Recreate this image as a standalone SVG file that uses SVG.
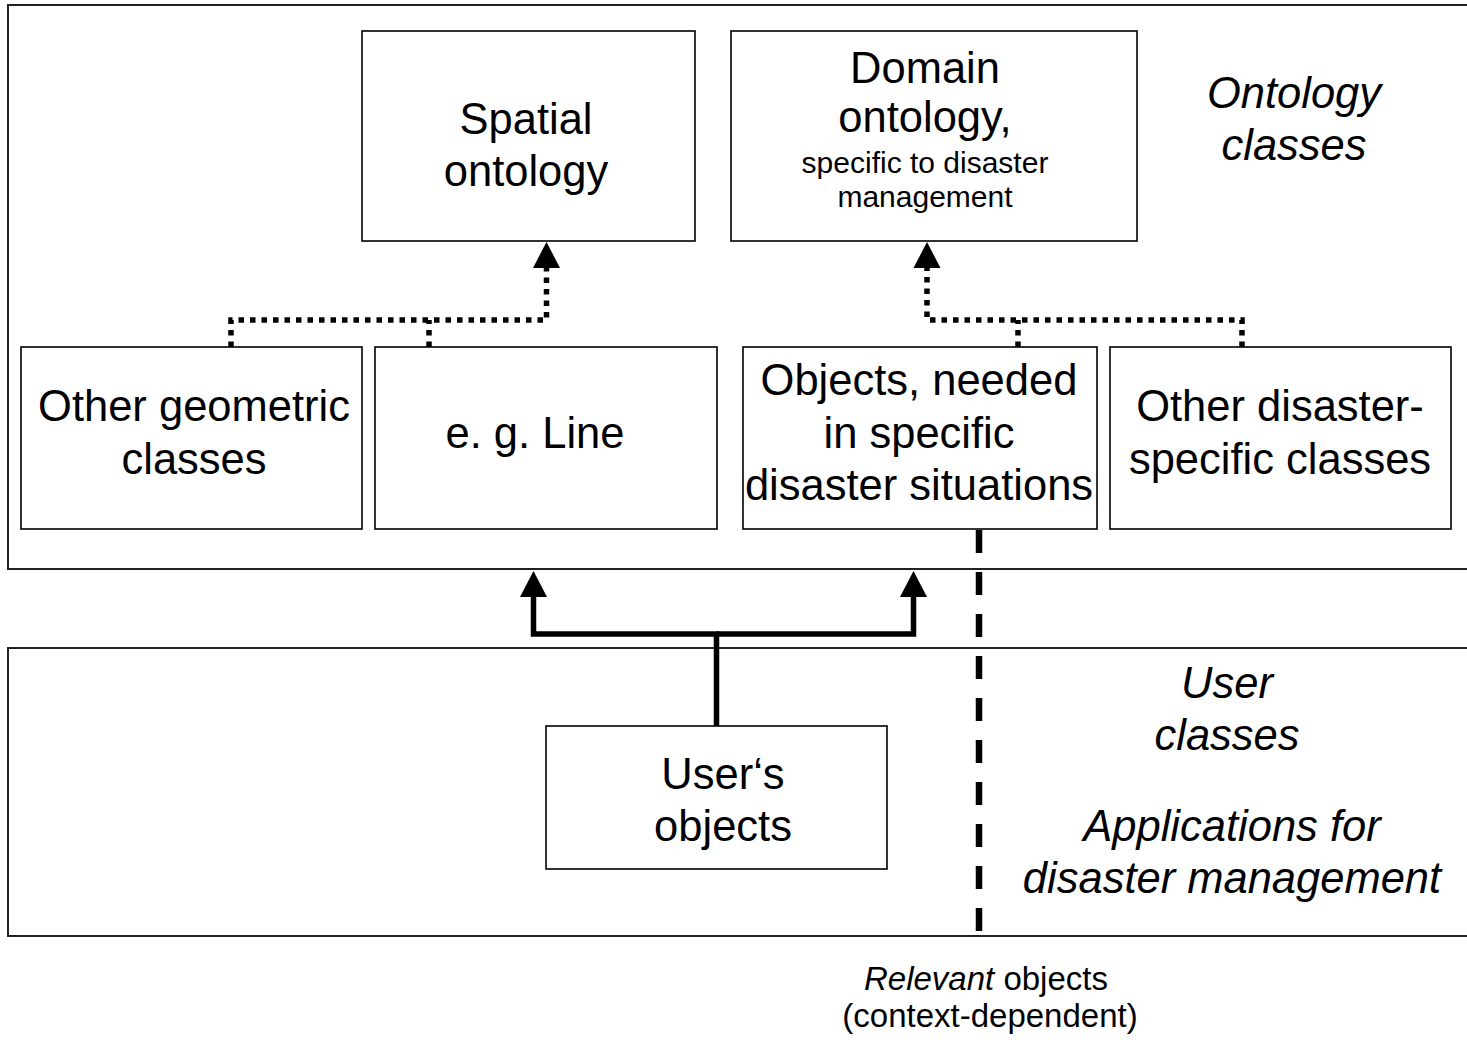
<svg xmlns="http://www.w3.org/2000/svg" width="1467" height="1040" viewBox="0 0 1467 1040">
<style>
.frame{fill:#fff;stroke:#222;stroke-width:2}
.box{fill:#fff;stroke:#000;stroke-width:1.6}
.t{font-family:"Liberation Sans",Arial,sans-serif;font-size:43.5px;fill:#000;text-anchor:middle}
.s{font-size:30px}
.r{font-size:33px}
.i{font-style:italic}
.dot{fill:none;stroke:#000;stroke-width:5.5;stroke-dasharray:5.5 6}
.sol{fill:none;stroke:#000;stroke-width:5.5}
.dash{fill:none;stroke:#000;stroke-width:6.5;stroke-dasharray:23 19}
</style>
<defs>
<marker id="arr" markerUnits="userSpaceOnUse" markerWidth="30" markerHeight="30" viewBox="0 -15 30 30" refX="0" refY="0" orient="auto" overflow="visible">
<path d="M0,-13.5 L26,0 L0,13.5 z" fill="#000"/>
</marker>
</defs>
<rect width="1467" height="1040" fill="#fff"/>
<g id="ontology-layer">
<rect class="frame" x="8" y="5" width="1500" height="564"/>
<text class="t i" x="1294" y="107.5">Ontology</text>
<text class="t i" x="1294" y="159.5">classes</text>
</g>
<g id="user-layer">
<rect class="frame" x="8" y="648" width="1500" height="288"/>
<text class="t i" x="1227" y="697.5">User</text>
<text class="t i" x="1227" y="749.5">classes</text>
<text class="t i" x="1232" y="840.5">Applications for</text>
<text class="t i" x="1232" y="892.5">disaster management</text>
</g>
<g id="spatial-ontology">
<rect class="box" x="362" y="31" width="333" height="210"/>
<text class="t" x="526" y="133.5">Spatial</text>
<text class="t" x="526" y="185.5">ontology</text>
</g>
<g id="domain-ontology">
<rect class="box" x="731" y="31" width="406" height="210"/>
<text class="t" x="925" y="83">Domain</text>
<text class="t" x="925" y="132">ontology,</text>
<text class="t s" x="925" y="173">specific to disaster</text>
<text class="t s" x="925" y="207">management</text>
</g>
<g id="other-geometric">
<rect class="box" x="21" y="347" width="341" height="182"/>
<text class="t" x="194" y="420.5">Other geometric</text>
<text class="t" x="194" y="473.5">classes</text>
</g>
<g id="eg-line">
<rect class="box" x="375" y="347" width="342" height="182"/>
<text class="t" x="535" y="447.5">e. g. Line</text>
</g>
<g id="objects-needed">
<rect class="box" x="743" y="347" width="354" height="182"/>
<text class="t" x="919" y="395">Objects, needed</text>
<text class="t" x="919" y="447.5">in specific</text>
<text class="t" x="919" y="500">disaster situations</text>
</g>
<g id="other-disaster">
<rect class="box" x="1110" y="347" width="341" height="182"/>
<text class="t" x="1280" y="420.5">Other disaster-</text>
<text class="t" x="1280" y="473.5">specific classes</text>
</g>
<g id="users-objects">
<rect class="box" x="546" y="726" width="341" height="143"/>
<text class="t" x="723" y="788.5">User‘s</text>
<text class="t" x="723" y="840.5">objects</text>
</g>
<g id="connectors">
<path class="dot" d="M231,347 V320 H546.5 V268" marker-end="url(#arr)"/>
<path class="dot" d="M429,347 V320"/>
<path class="dot" d="M1242,347 V320 H927 V268" marker-end="url(#arr)"/>
<path class="dot" d="M1018,347 V320"/>
<path class="sol" d="M716.5,726 V634 H533.5 V597" marker-end="url(#arr)"/>
<path class="sol" d="M716.5,634 H913.5 V597" marker-end="url(#arr)"/>
<path class="dash" d="M979,530 V932"/>
</g>
<g id="relevant-label">
<text class="t r" x="986" y="990"><tspan class="i">Relevant</tspan> objects</text>
<text class="t r" x="990" y="1027">(context-dependent)</text>
</g>
</svg>
